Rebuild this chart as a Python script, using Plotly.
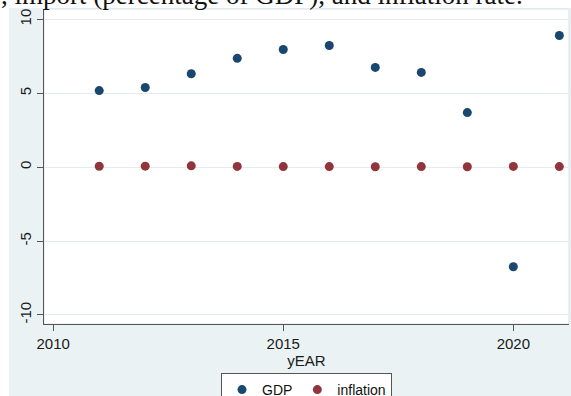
import plotly.graph_objects as go

# Annual series
years = [2011, 2012, 2013, 2014, 2015, 2016, 2017, 2018, 2019, 2020, 2021]
gdp = [5.18, 5.39, 6.32, 7.36, 7.96, 8.23, 6.75, 6.41, 3.69, -6.74, 8.91]
inflation = [0.06, 0.07, 0.09, 0.05, 0.04, 0.04, 0.03, 0.04, 0.03, 0.05, 0.04]

x_ticks = [2010, 2015, 2020]
y_ticks = [-10, -5, 0, 5, 10]
y_tick_labels = ["-10", "-5", "0", "5", "10"]

heading = ", import (percentage of GDP), and inflation rate."

# Canvas geometry (pixels)
W, H = 571, 396
L, R, T, B = 44, 2, 9, 72
PW, PH = W - L - R, H - T - B


def px_x(p):
    return (p - L) / PW


def px_y(p):
    return (H - B - p) / PH


NAVY = "#1a476f"
MAROON = "#90353b"
BG = "#EAF2F3"
AXIS = "#555555"

fig = go.Figure()
fig.add_trace(go.Scatter(x=years, y=gdp, mode="markers", name="GDP",
                         marker=dict(color=NAVY, size=9, line=dict(width=0))))
fig.add_trace(go.Scatter(x=years, y=inflation, mode="markers", name="inflation",
                         marker=dict(color=MAROON, size=9, line=dict(width=0))))

fig.update_layout(
    width=W, height=H,
    margin=dict(l=L, r=R, t=T, b=B, autoexpand=False),
    paper_bgcolor=BG,
    plot_bgcolor="white",
    font=dict(family="Liberation Sans, Arial", size=15, color="#1a1a1a"),
    showlegend=True,
    legend=dict(orientation="h", x=0.5, xanchor="center", y=px_y(373), yanchor="top",
                bgcolor="white", bordercolor=AXIS, borderwidth=1,
                font=dict(size=14, color="#111111"), itemwidth=30,
                tracegroupgap=0),
    xaxis=dict(range=[2009.80, 2021.21], tickvals=x_ticks, ticks="outside", ticklen=6,
               tickcolor=AXIS, showline=True, linecolor=AXIS, linewidth=1,
               showgrid=False, zeroline=False, mirror=False,
               title=dict(text="yEAR", standoff=2, font=dict(size=15))),
    yaxis=dict(range=[-10.61, 10.70], tickvals=y_ticks, ticktext=y_tick_labels,
               ticks="outside", ticklen=6,
               tickcolor=AXIS, showline=True, linecolor=AXIS, linewidth=1,
               showgrid=True, gridcolor="#E3EDEF", gridwidth=1,
               zeroline=False, tickangle=-90, ticklabelstandoff=0),
)

# White page strips outside the chart background
fig.add_shape(type="rect", xref="paper", yref="paper",
              x0=px_x(-5), x1=px_x(9), y0=px_y(H + 5), y1=px_y(-5),
              fillcolor="white", line=dict(width=0), layer="below")
fig.add_shape(type="rect", xref="paper", yref="paper",
              x0=px_x(-5), x1=px_x(W + 5), y0=px_y(8), y1=px_y(-5),
              fillcolor="white", line=dict(width=0), layer="below")
# Light outline of the plot region
fig.add_shape(type="rect", xref="paper", yref="paper", x0=0, x1=1, y0=0, y1=1,
              fillcolor="rgba(0,0,0,0)", line=dict(color="#D9E4E7", width=1),
              layer="below")

# Running heading of the surrounding text
fig.add_annotation(text=heading, xref="paper", yref="paper",
                   x=px_x(-1), y=px_y(12), xanchor="left", yanchor="bottom",
                   showarrow=False,
                   font=dict(family="Liberation Serif, Times New Roman", size=27,
                             color="#111111"))

fig.write_html("out.html")
